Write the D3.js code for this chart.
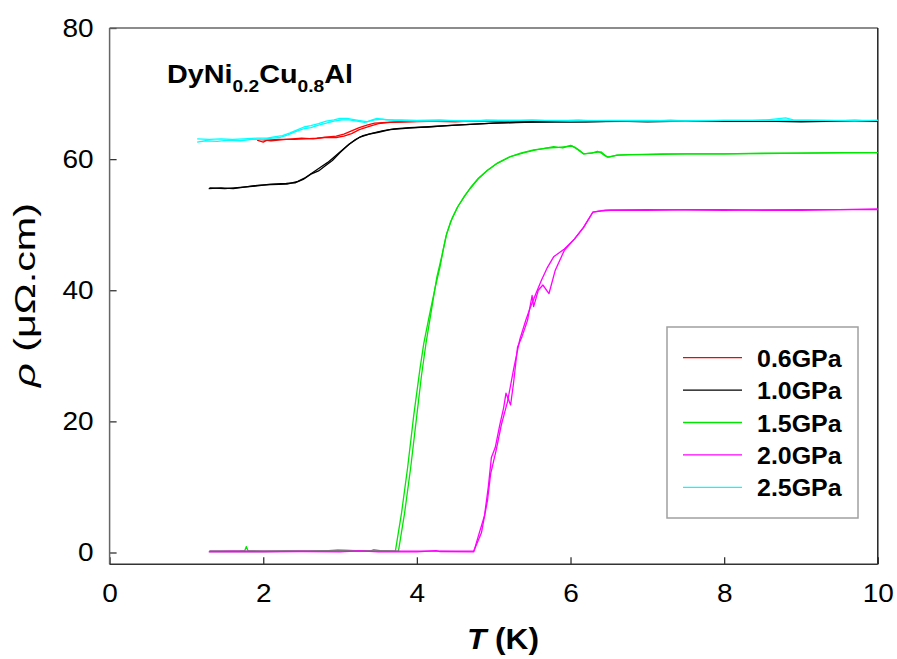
<!DOCTYPE html>
<html>
<head>
<meta charset="utf-8">
<script src="https://cdn.jsdelivr.net/npm/d3@7"></script>
<style>
  body { margin: 0; background: #fff; }
  text { font-family: "Liberation Sans", Arial, sans-serif; fill: #000; }
</style>
</head>
<body>
<svg id="chart" width="897" height="659"></svg>
<script>
// Resistivity of DyNi0.2Cu0.8Al under pressure: each run is a cooling and a warming sweep, [T (K), rho (µΩ.cm)]
const pressures = ["0.6GPa", "1.0GPa", "1.5GPa", "2.0GPa", "2.5GPa"];
const colors = ["#ff0000", "#000000", "#00e600", "#ff00ff", "#00ffff"];
const xTicks = [0, 2, 4, 6, 8, 10];
const yTicks = [0, 20, 40, 60, 80];

const p06Warm = [[1.92,62.9],[2.00,62.6],[2.05,62.9],[2.20,63.0],[2.40,63.0],[2.55,63.1],[2.70,63.2],[2.85,63.4],[2.95,63.5],[3.05,63.8],[3.15,64.3],[3.25,64.8],[3.35,65.2],[3.45,65.5],[3.60,65.6],[3.80,65.7],[4.10,65.8],[4.50,65.7],[4.90,65.9],[5.30,65.8],[5.70,65.8],[6.10,65.9],[6.50,65.8],[6.90,65.8],[7.30,65.9],[7.70,65.8],[8.10,65.8],[8.50,65.9],[8.90,65.8],[9.30,65.8],[9.70,65.9],[10.0,65.8]];
const p06Cool = [[1.95,63.0],[2.10,62.8],[2.30,63.0],[2.50,63.2],[2.65,63.1],[2.80,63.3],[2.95,63.3],[3.05,63.5],[3.15,63.9],[3.25,64.5],[3.38,65.0],[3.50,65.4],[3.65,65.6],[3.90,65.7],[4.30,65.8],[4.70,65.8],[5.10,65.8],[5.50,65.9],[6.00,65.8],[7.00,65.8],[8.00,65.8],[9.00,65.8],[10.0,65.8]];

const p10Warm = [[1.29,55.5],[1.45,55.6],[1.61,55.5],[1.80,55.8],[1.92,56.0],[2.10,56.1],[2.31,56.2],[2.45,56.6],[2.55,57.2],[2.65,58.0],[2.75,58.8],[2.84,59.5],[2.95,60.6],[3.09,62.0],[3.20,63.0],[3.30,63.6],[3.40,63.9],[3.55,64.3],[3.70,64.6],[3.90,64.8],[4.14,64.9],[4.40,65.1],[4.70,65.3],[5.00,65.5],[5.40,65.6],[5.80,65.7],[6.20,65.7],[6.60,65.8],[7.00,65.7],[7.50,65.8],[8.00,65.8],[8.50,65.8],[9.00,65.7],[9.50,65.8],[10.0,65.8]];
const p10Cool = [[1.30,55.6],[1.50,55.5],[1.70,55.7],[1.90,55.9],[2.10,56.2],[2.30,56.3],[2.42,56.4],[2.52,56.9],[2.62,57.7],[2.72,58.2],[2.80,58.9],[2.90,59.8],[3.00,61.0],[3.12,62.3],[3.25,63.3],[3.38,63.8],[3.50,64.1],[3.65,64.5],[3.85,64.7],[4.10,64.9],[4.50,65.2],[5.00,65.5],[5.50,65.7],[6.00,65.7],[7.00,65.8],[8.00,65.8],[9.00,65.8],[10.0,65.8]];

const p15Warm = [[1.30,0.2],[1.50,0.2],[1.70,0.25],[1.76,0.3],[1.78,0.9],[1.80,0.3],[2.00,0.2],[2.30,0.25],[2.60,0.2],[2.85,0.3],[2.97,0.4],[3.07,0.35],[3.20,0.3],[3.40,0.25],[3.44,0.45],[3.52,0.3],[3.70,0.2],[3.72,0.2],[3.80,6],[3.88,13],[3.96,21],[4.04,28],[4.09,31.9],[4.16,36],[4.24,40.5],[4.30,43.5],[4.34,46],[4.39,48.7],[4.46,51],[4.53,52.7],[4.62,54.3],[4.70,55.7],[4.80,57.1],[4.92,58.3],[5.05,59.4],[5.22,60.4],[5.35,60.9],[5.52,61.4],[5.65,61.6],[5.78,61.9],[5.90,61.7],[6.00,62.1],[6.06,61.8],[6.12,61.3],[6.17,60.8],[6.28,60.9],[6.35,61.2],[6.39,61.0],[6.45,60.5],[6.50,60.3],[6.60,60.6],[6.78,60.7],[7.00,60.7],[7.50,60.8],[8.00,60.8],[8.50,60.9],[9.00,60.9],[9.50,61.0],[10.0,61.0]];
const p15Cool = [[1.30,0.15],[2.00,0.15],[2.50,0.2],[3.00,0.3],[3.50,0.25],[3.76,0.2],[3.84,6],[3.92,13],[3.99,20],[4.06,27],[4.12,32],[4.19,37],[4.26,42],[4.33,45.5],[4.38,48.3],[4.44,50.5],[4.53,52.7],[4.62,54.4],[4.70,55.6],[4.80,57.0],[4.92,58.3],[5.05,59.4],[5.22,60.4],[5.40,61.0],[5.55,61.4],[5.70,61.7],[5.85,61.8],[6.02,62.0],[6.10,61.4],[6.17,60.8],[6.30,61.0],[6.40,61.1],[6.48,60.3],[6.62,60.6],[6.80,60.7],[7.20,60.8],[8.00,60.8],[9.00,60.9],[10.0,61.0]];

const p20Warm = [[1.29,0.1],[1.60,0.15],[2.00,0.1],[2.50,0.15],[3.00,0.1],[3.25,0.25],[3.50,0.1],[4.00,0.1],[4.25,0.3],[4.30,0.15],[4.74,0.1],[4.80,2.5],[4.88,5.6],[4.93,10],[4.97,14.5],[5.02,16],[5.08,19.5],[5.13,22.1],[5.16,24.3],[5.22,22.5],[5.26,26],[5.31,31.3],[5.37,33],[5.44,35.4],[5.50,39.2],[5.52,37.5],[5.58,40],[5.64,40.8],[5.72,39.5],[5.80,43],[5.92,46.1],[6.05,47.8],[6.17,49.6],[6.29,51.9],[6.40,52.1],[6.52,52.2],[7.00,52.2],[7.50,52.3],[8.00,52.3],[8.50,52.2],[9.00,52.2],[9.50,52.3],[10.0,52.4]];
const p20Cool = [[1.30,0.2],[2.00,0.2],[3.00,0.2],[4.00,0.2],[4.74,0.2],[4.84,3],[4.92,8],[4.96,12],[5.03,15.5],[5.10,19.5],[5.18,23],[5.26,28],[5.34,32.5],[5.42,35.5],[5.48,37.5],[5.55,39.5],[5.62,41.5],[5.70,43.5],[5.78,45.1],[5.92,46.3],[6.05,47.8],[6.17,49.6],[6.29,51.9],[6.45,52.2],[7.00,52.3],[8.00,52.2],[9.00,52.3],[10.0,52.3]];

const p25Warm = [[1.14,63.1],[1.30,63.0],[1.45,63.1],[1.60,63.0],[1.75,63.1],[1.92,63.2],[2.05,63.2],[2.14,63.4],[2.25,63.6],[2.35,64.0],[2.45,64.5],[2.53,64.9],[2.62,65.1],[2.72,65.4],[2.82,65.8],[2.92,66.0],[3.00,66.2],[3.09,66.2],[3.20,66.0],[3.30,65.8],[3.35,65.7],[3.42,66.0],[3.48,66.2],[3.60,66.0],[3.79,66.0],[4.00,65.9],[4.30,66.0],[4.60,65.8],[5.00,65.9],[5.50,65.9],[6.00,65.8],[6.50,65.9],[7.00,65.9],[7.50,65.8],[8.00,65.9],[8.50,65.9],[8.80,66.3],[8.90,66.0],[9.30,65.9],[9.70,65.8],[10.0,65.9]];
const p25Cool = [[1.14,62.6],[1.25,62.8],[1.40,62.7],[1.55,62.9],[1.70,62.8],[1.85,63.0],[2.00,63.0],[2.12,63.2],[2.22,63.3],[2.32,63.7],[2.42,64.2],[2.52,64.6],[2.62,64.8],[2.72,65.2],[2.82,65.5],[2.92,65.8],[3.02,66.0],[3.12,66.0],[3.22,65.8],[3.32,65.6],[3.45,66.0],[3.55,66.1],[3.70,65.9],[4.00,65.8],[5.00,65.9],[6.00,65.9],[7.00,65.8],[8.00,65.9],[9.00,65.9],[10.0,65.9]];

const sweeps = [
  [p06Warm, p06Cool],
  [p10Warm, p10Cool],
  [p15Warm, p15Cool],
  [p20Warm, p20Cool],
  [p25Warm, p25Cool]
];

const svg = d3.select("#chart");
const x = d3.scaleLinear().domain([0, 10]).range([109.6, 877.8]);
const y = d3.scaleLinear().domain([-1.8, 80]).range([564.3, 28]);

// stretch text horizontally by a factor
function widen(sel, f) {
  sel.each(function () {
    const len = this.getComputedTextLength();
    d3.select(this).attr("textLength", len * f).attr("lengthAdjust", "spacingAndGlyphs");
  });
}

// axes with inward ticks
const gx = svg.append("g").attr("transform", `translate(0,${y.range()[0]})`)
  .call(d3.axisBottom(x).tickValues(xTicks).tickSize(-7).tickPadding(20).tickFormat(d3.format("d")));
const gy = svg.append("g").attr("transform", `translate(${x.range()[0]},0)`)
  .call(d3.axisLeft(y).tickValues(yTicks).tickSize(-7).tickPadding(16).tickFormat(d3.format("d")));
[gx, gy].forEach(g => {
  g.select(".domain").remove();
  g.selectAll(".tick line").attr("stroke", "#333").attr("stroke-width", 1.3);
  g.selectAll(".tick text").attr("font-size", 25).attr("fill", "#000");
});
widen(gx.selectAll(".tick text"), 1.12);
widen(gy.selectAll(".tick text"), 1.12);

// frame
const [x0, x1] = x.range(), [y0, y1] = y.range();
svg.append("line").attr("x1", x0).attr("x2", x0).attr("y1", y1).attr("y2", y0).attr("stroke", "#666").attr("stroke-width", 1.5);
svg.append("line").attr("x1", x0).attr("x2", x1).attr("y1", y1).attr("y2", y1).attr("stroke", "#666").attr("stroke-width", 1.5);
svg.append("line").attr("x1", x1).attr("x2", x1).attr("y1", y1).attr("y2", y0).attr("stroke", "#222").attr("stroke-width", 1.5);
svg.append("line").attr("x1", x0).attr("x2", x1).attr("y1", y0).attr("y2", y0).attr("stroke", "#333").attr("stroke-width", 1.5);

// curves
const line = d3.line().x(d => x(d[0])).y(d => y(d[1]));
sweeps.forEach((pair, i) => {
  pair.forEach(s => {
    svg.append("path").attr("d", line(s)).attr("fill", "none")
      .attr("stroke", colors[i]).attr("stroke-width", 1.3).attr("stroke-linejoin", "round");
  });
});

// compound name
const title = svg.append("text").attr("x", 167).attr("y", 83).attr("font-size", 25.5).attr("font-weight", "bold");
title.append("tspan").text("DyNi");
title.append("tspan").attr("font-size", 17).attr("dy", 9).text("0.2");
title.append("tspan").attr("dy", -9).text("Cu");
title.append("tspan").attr("font-size", 17).attr("dy", 9).text("0.8");
title.append("tspan").attr("dy", -9).text("Al");
title.attr("textLength", 186).attr("lengthAdjust", "spacingAndGlyphs");

// axis titles
const xl = svg.append("text").attr("x", 503).attr("y", 649).attr("text-anchor", "middle")
  .attr("font-size", 29).attr("font-weight", "bold");
xl.append("tspan").attr("font-style", "italic").text("T");
xl.append("tspan").text(" (K)");
xl.attr("textLength", 72).attr("lengthAdjust", "spacingAndGlyphs");

const yl = svg.append("text").attr("transform", "translate(35,295) rotate(-90)").attr("text-anchor", "middle")
  .attr("font-size", 30);
yl.append("tspan").attr("font-style", "italic").text("ρ");
yl.append("tspan").text(" (μΩ.cm)");
yl.attr("textLength", 184).attr("lengthAdjust", "spacingAndGlyphs");

// legend
const lg = svg.append("g");
lg.append("rect").attr("x", 667).attr("y", 327).attr("width", 191).attr("height", 191)
  .attr("fill", "#fff").attr("stroke", "#a0a0a0").attr("stroke-width", 1.5);
pressures.forEach((p, i) => {
  const cy = 357.7 + i * 32.4;
  lg.append("line").attr("x1", 683).attr("x2", 742).attr("y1", cy).attr("y2", cy)
    .attr("stroke", colors[i]).attr("stroke-width", 1.3);
  lg.append("text").attr("x", 757).attr("y", cy + 9).attr("font-size", 24).attr("font-weight", "bold").text(p);
});
widen(lg.selectAll("text"), 1.04);
</script>
</body>
</html>
